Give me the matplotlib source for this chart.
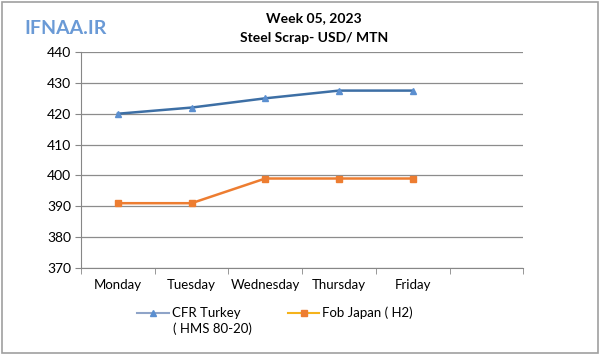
import matplotlib
matplotlib.use("Agg")
import matplotlib.pyplot as plt
from matplotlib.lines import Line2D
from matplotlib.patches import Rectangle

# Datos
days = ["Monday", "Tuesday", "Wednesday", "Thursday", "Friday"]
cfr_turkey = [420, 422, 425, 427.5, 427.5]
fob_japan = [391, 391, 399, 399, 399]
y_ticks = [370, 380, 390, 400, 410, 420, 430, 440]

plt.rcParams["font.family"] = ["Lato", "DejaVu Sans"]

fig = plt.figure(figsize=(6.0, 3.54), dpi=100)
fig.patch.set_facecolor("white")
ax = fig.add_axes([0.135, 0.243, 0.737, 0.61])

x = list(range(len(days)))
ax.plot(x, cfr_turkey, color="#3d6fa5", lw=1.8, marker="^", ms=5,
        mfc="#5b8fd0", mec="#5b8fd0", zorder=3)
ax.plot(x, fob_japan, color="#ed7d31", lw=1.8, marker="s", ms=5,
        mfc="#ed7d31", mec="#ed7d31", zorder=3)

ax.set_xlim(-0.5, 5.5)
ax.set_ylim(370, 440)
ax.set_yticks(y_ticks)
ax.set_xticks(x)
ax.set_xticklabels(days, fontsize=9.5)
ax.set_xticks([i - 0.5 for i in range(7)], minor=True)
ax.tick_params(axis="x", which="major", length=0, pad=8)
ax.tick_params(axis="x", which="minor", length=4, color="#878787")
ax.tick_params(axis="y", labelsize=10, length=4, color="#878787", pad=3)
ax.grid(axis="y", color="#8c8c8c", lw=0.9)
ax.set_axisbelow(True)
for side in ["top", "right"]:
    ax.spines[side].set_visible(False)
ax.spines["left"].set_color("#878787")
ax.spines["bottom"].set_color("#878787")

fig.text(0.523, 0.95, "Week 05, 2023", ha="center", va="center",
         fontsize=10, fontweight="bold")
fig.text(0.523, 0.893, "Steel Scrap- USD/ MTN", ha="center", va="center",
         fontsize=10, fontweight="bold")
fig.text(0.04, 0.92, "IFNAA.IR", ha="left", va="center", fontsize=14,
         fontweight="bold", color="#6a9ad6")

# Leyenda: dos entradas, la segunda linea del texto de Turkey aparte
handles = [
    Line2D([0], [0], color="#8fa4c8", lw=1.5, marker="^", ms=5,
           mfc="#5b8fd0", mec="#5b8fd0"),
    Line2D([0], [0], color="#f5b31b", lw=1.5, marker="s", ms=5,
           mfc="#ed7d31", mec="#ed7d31"),
]
labels = ["CFR Turkey", "Fob Japan ( H2)"]
fig.legend(handles, labels, loc="center left", bbox_to_anchor=(0.229, 0.116),
           ncol=2, frameon=False, fontsize=9.5, handlelength=2.4,
           columnspacing=3.6, handletextpad=0.2, borderaxespad=0, borderpad=0)
fig.text(0.288, 0.072, "( HMS 80-20)", ha="left", va="center", fontsize=9.5)

fig.add_artist(Rectangle((0.003, 0.004), 0.994, 0.99, transform=fig.transFigure,
                         fill=False, edgecolor="#a0a0a0", lw=1.2))

fig.savefig("out.png", dpi=100)
